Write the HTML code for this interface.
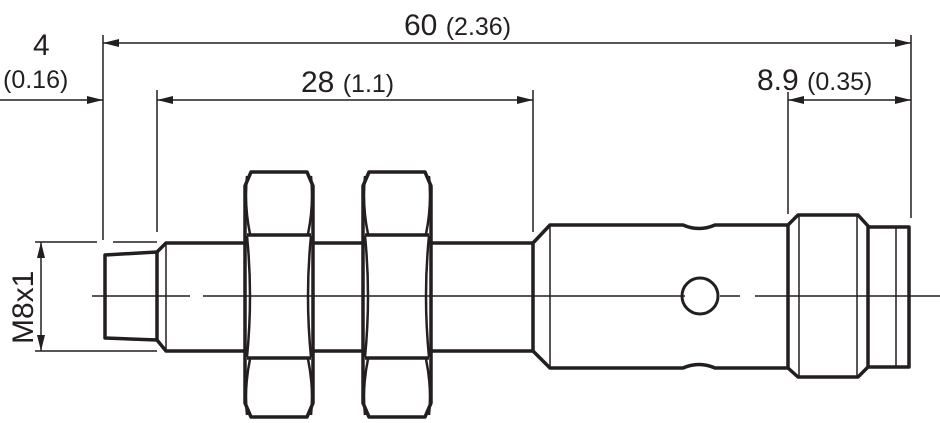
<!DOCTYPE html>
<html><head><meta charset="utf-8"><style>
html,body{margin:0;padding:0;background:#fff;}
svg{display:block;}
text{font-family:"Liberation Sans",sans-serif;fill:#231f20;}
</style></head><body>
<svg width="940" height="423" viewBox="0 0 940 423" xmlns="http://www.w3.org/2000/svg">
<defs>
<marker id="a" markerWidth="16" markerHeight="8" refX="16" refY="4" orient="auto-start-reverse" markerUnits="userSpaceOnUse">
<path d="M0,0 L16,4 L0,8 Z" fill="#231f20"/></marker>
</defs>
<g stroke="#231f20" stroke-width="1.5" fill="none">
<line x1="103" y1="35" x2="103" y2="240"/>
<line x1="157" y1="90" x2="157" y2="232"/>
<line x1="533" y1="90" x2="533" y2="232"/>
<line x1="788" y1="92" x2="788" y2="214"/>
<line x1="911" y1="35" x2="911" y2="218"/>
<line x1="103" y1="43" x2="911" y2="43" marker-start="url(#a)" marker-end="url(#a)"/>
<line x1="157" y1="100" x2="533" y2="100" marker-start="url(#a)" marker-end="url(#a)"/>
<line x1="0" y1="100" x2="103" y2="100" marker-end="url(#a)"/>
<line x1="788" y1="100" x2="911" y2="100" marker-start="url(#a)" marker-end="url(#a)"/>
<line x1="35" y1="242" x2="97" y2="242"/><line x1="113" y1="242" x2="157" y2="242"/>
<line x1="35" y1="351" x2="157" y2="351"/>
<line x1="41" y1="242" x2="41" y2="351" marker-start="url(#a)" marker-end="url(#a)"/>
<line x1="92" y1="296" x2="190" y2="296"/>
<line x1="203" y1="296" x2="685" y2="296"/>
<line x1="720" y1="296" x2="740" y2="296"/>
<line x1="755" y1="296" x2="940" y2="296"/>
</g>
<g stroke="#231f20" stroke-width="3.5" fill="none" stroke-linejoin="round">
<path d="M105,255 L157,252 L157,340 L105,338 Z"/>
<path d="M157,252 L166,243 H245 M157,340 L166,351 H245"/>
<line x1="166" y1="243" x2="166" y2="351" stroke-width="1.5"/>
<path d="M313,243 H363 M313,351 H363 M430,243 H533 M430,351 H533"/>
<g id="nut">
<path d="M251,172 H307 L313,186 V403 L307,417 H251 L245,403 V186 Z"/>
<path d="M247,235 H311 M247,358 H311"/>
<path d="M247,236 Q253,296 247,357 M311,236 Q305,296 311,357" stroke-width="2.5"/>
<path d="M247,176 Q244,205 250,234 M311,176 Q314,205 308,234 M247,415 Q244,388 250,359 M311,415 Q314,388 308,359" stroke-width="2.5"/>
</g>
<use href="#nut" transform="translate(118,0)"/>
<path d="M533,243 L533,351 M533,243 L550,225 H683 Q699,232 715,225 H788 M533,351 L550,368 H683 Q699,361 715,368 H788 V225"/>
<line x1="550" y1="225" x2="550" y2="368" stroke-width="1.5"/>
<circle cx="700" cy="296" r="18" stroke-width="3"/>
<path d="M788,225 L798,215 H858 L868,226 V367 L858,377 H798 L788,368"/>
<line x1="799" y1="215" x2="799" y2="377" stroke-width="1.5"/>
<line x1="857" y1="215" x2="857" y2="377" stroke-width="1.5"/>
<path d="M868,227 H909 V367 H868"/>
<line x1="896" y1="227" x2="896" y2="367" stroke-width="1.5"/>
</g>
<text x="404" y="35" font-size="30">60 <tspan font-size="25">(2.36)</tspan></text>
<text x="33" y="55" font-size="30">4</text>
<text x="3" y="88" font-size="25">(0.16)</text>
<text x="301" y="92" font-size="30">28 <tspan font-size="25">(1.1)</tspan></text>
<text x="757" y="90" font-size="30">8.9 <tspan font-size="25">(0.35)</tspan></text>
<text transform="translate(33,344) rotate(-90)" font-size="30">M8x1</text>
</svg>
</body></html>
